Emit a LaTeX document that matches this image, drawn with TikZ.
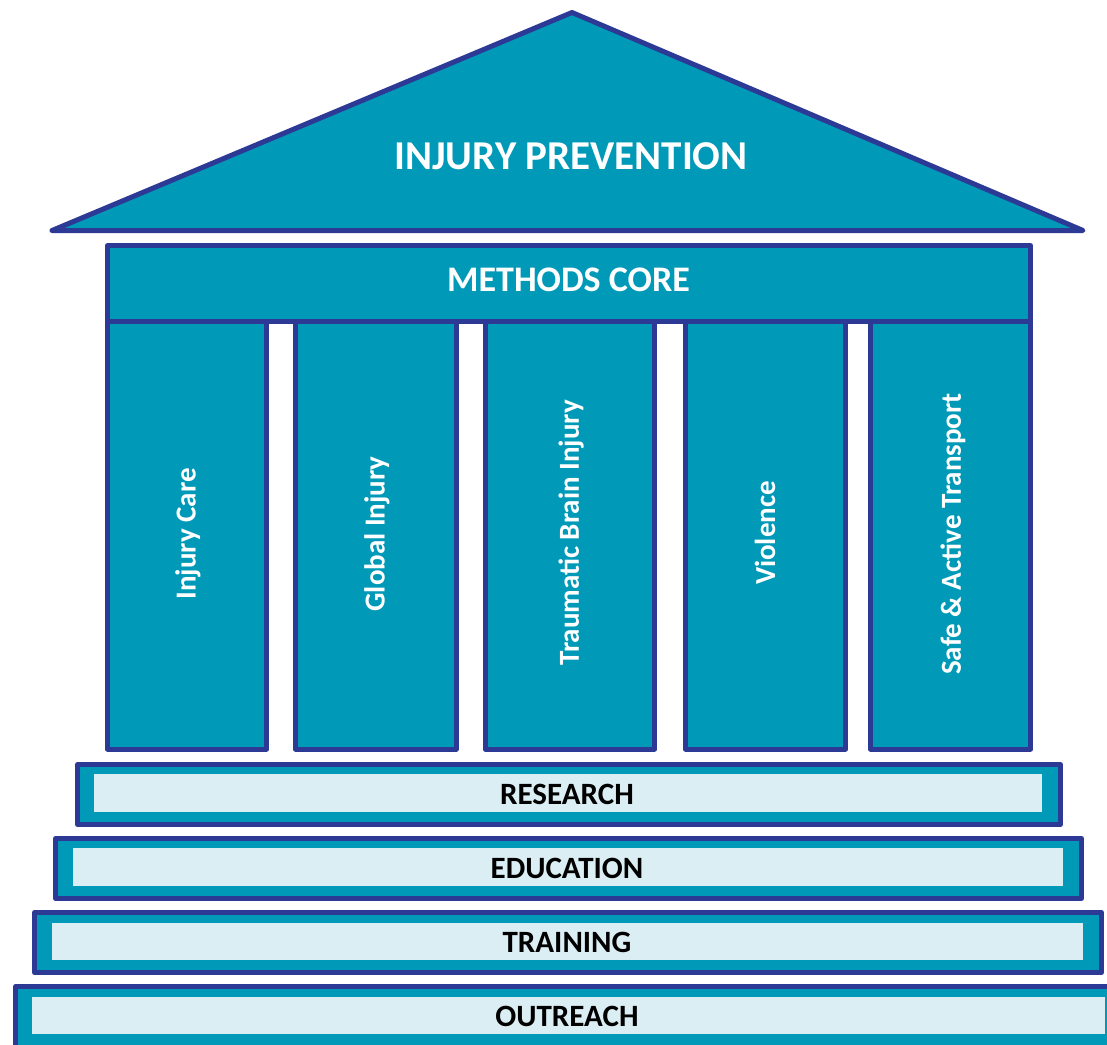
\documentclass[tikz,border=0pt]{standalone}
\usepackage{fontspec}
\setmainfont{Carlito}
\definecolor{pteal}{RGB}{0,154,184}
\definecolor{pblue}{RGB}{44,58,150}
\definecolor{plight}{RGB}{219,238,244}
\begin{document}
\begin{tikzpicture}[x=1pt,y=-1pt,line join=round,
  frame/.style={draw=pblue,line width=5pt,fill=pteal},
  inner/.style={fill=plight},
  wlabel/.style={text=white,font=\bfseries\fontsize{#1}{#1}\selectfont,inner sep=0pt},
  collabel/.style={text=white,font=\bfseries\fontsize{29}{29}\selectfont,inner sep=0pt,rotate=90},
  steplabel/.style={text=black,font=\bfseries\fontsize{31}{31}\selectfont,inner sep=0pt}]
\clip (0,0) rectangle (1107,1044);
% roof
\draw[frame] (52,230.5) -- (572,12.5) -- (1083,230.5) -- cycle;
\node[wlabel=41] (roof) at (571,156) {INJURY PREVENTION};
% columns
\draw[frame] (107.5,321) rectangle (266.5,749);
\draw[frame] (295.5,321) rectangle (456,749);
\draw[frame] (485,321) rectangle (654.5,749);
\draw[frame] (685.5,321) rectangle (845.5,749);
\draw[frame] (870.5,321) rectangle (1030.5,749);
\node[collabel] (c1) at (188,534) {Injury Care};
\node[collabel] (c2) at (377,534) {Global Injury};
\node[collabel] (c3) at (571,533) {Traumatic Brain Injury};
\node[collabel] (c4) at (765,533) {Violence};
\node[collabel] (c5) at (953,534) {Safe \& Active Transport};
% methods core
\draw[frame] (107.5,245.5) rectangle (1030.5,321);
\node[wlabel=36] (methods) at (568.5,279.5) {METHODS CORE};
% steps
\draw[frame] (77.5,764.5) rectangle (1060.5,824.5);
\fill[inner] (94,774) rectangle (1042,812);
\node[steplabel] (research) at (567,794) {RESEARCH};
\draw[frame] (55.5,838.5) rectangle (1081.5,898.5);
\fill[inner] (73,848) rectangle (1063,886);
\node[steplabel] (education) at (567,868) {EDUCATION};
\draw[frame] (34.5,912.5) rectangle (1101.5,972.5);
\fill[inner] (52,923) rectangle (1083,960);
\node[steplabel] (training) at (567,942) {TRAINING};
\draw[frame] (15.5,986.5) rectangle (1124,1050);
\fill[inner] (32,997) rectangle (1105,1034);
\node[steplabel] (outreach) at (567,1016) {OUTREACH};
\end{tikzpicture}
\end{document}
